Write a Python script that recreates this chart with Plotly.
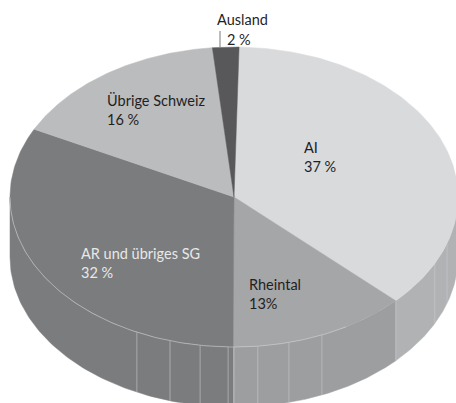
import numpy as np
import plotly.graph_objects as go

categories = ["AI", "Rheintal", "AR und übriges SG", "Übrige Schweiz", "Ausland"]
shares = [36.8, 12.9, 32.4, 16.0, 1.9]
top_colors = ["#d9dadc", "#a5a6a8", "#7b7c7e", "#bbbcbe", "#58585a"]
side_colors = ["#b1b2b4", "#9d9ea0", "#7b7c7e", "#bbbcbe", "#58585a"]
labels = ["AI<br>37 %", "Rheintal<br>13%", "AR und übriges SG<br>32 %", "Übrige Schweiz<br>16 %", "Ausland"]
label_colors = ["#1f1f1f", "#1f1f1f", "#e8e8e8", "#1f1f1f", "#1f1f1f"]
label_pos = [(304, 139), (249, 276), (81, 245), (107, 92), (217, 11)]
facet_angles = [108, 116.3, 133.7, 156.9, 165.8, 173.9, 180, 181.5, 188.7, 196.6, 205.7]

W, H = 456, 403
CX, CY, RX, RY, DEPTH = 234, 197, 224, 150, 60
START = 1.3


def pt(a, dy=0):
    r = np.radians(a)
    return CX + RX * np.sin(r), CY - RY * np.cos(r) + dy


fig = go.Figure()
edges = START + np.concatenate([[0], np.cumsum(shares)]) * 3.6

# side wall
for i in range(len(shares)):
    a0, a1 = max(edges[i], 90), min(edges[i + 1], 270)
    if a1 <= a0:
        continue
    t = np.linspace(a0, a1, 90)
    x1, y1 = pt(t)
    x2, y2 = pt(t[::-1], DEPTH)
    fig.add_trace(go.Scatter(x=np.r_[x1, x2], y=np.r_[y1, y2], mode="lines", fill="toself",
                             fillcolor=side_colors[i], line=dict(color=side_colors[i], width=0.5),
                             hoverinfo="skip", showlegend=False))

# facet lines on the side wall
for a in facet_angles:
    x1, y1 = pt(a)
    x2, y2 = pt(a, DEPTH)
    fig.add_trace(go.Scatter(x=[x1, x2], y=[y1, y2], mode="lines",
                             line=dict(color="#c9cacc", width=0.6),
                             hoverinfo="skip", showlegend=False))

# top faces
for i in range(len(shares)):
    t = np.linspace(edges[i], edges[i + 1], 120)
    x, y = pt(t)
    fig.add_trace(go.Scatter(x=np.r_[CX, x, CX], y=np.r_[CY, y, CY], mode="lines", fill="toself",
                             fillcolor=top_colors[i], line=dict(color=top_colors[i], width=0.5),
                             name=categories[i], hoverinfo="skip", showlegend=False))

# rim highlight
t = np.linspace(150, 270, 160)
x, y = pt(t)
fig.add_trace(go.Scatter(x=x, y=y, mode="lines", line=dict(color="#cfd0d2", width=0.6),
                         hoverinfo="skip", showlegend=False))

# leader line for Ausland
fig.add_trace(go.Scatter(x=[220, 220], y=[31, 47], mode="lines", line=dict(color="#555555", width=0.8),
                         hoverinfo="skip", showlegend=False))

for txt, col, (lx, ly) in zip(labels, label_colors, label_pos):
    fig.add_annotation(x=lx, y=ly, text=txt, showarrow=False, xanchor="left", yanchor="top", align="left",
                       font=dict(family="Lato", size=14.5, color=col), borderpad=0, borderwidth=0)
fig.add_annotation(x=226, y=30, text="2 %", showarrow=False, xanchor="left", yanchor="top", align="left",
                   font=dict(family="Lato", size=14.5, color="#1f1f1f"), borderpad=0)

fig.update_layout(width=W, height=H, margin=dict(l=0, r=0, t=0, b=0), paper_bgcolor="white",
                  plot_bgcolor="white", showlegend=False,
                  xaxis=dict(range=[0, W], visible=False, fixedrange=True),
                  yaxis=dict(range=[H, 0], visible=False, fixedrange=True))
fig.write_html("out.html", config={"displayModeBar": False},
               post_script="document.body.style.margin='0';document.body.style.overflow='hidden';")
